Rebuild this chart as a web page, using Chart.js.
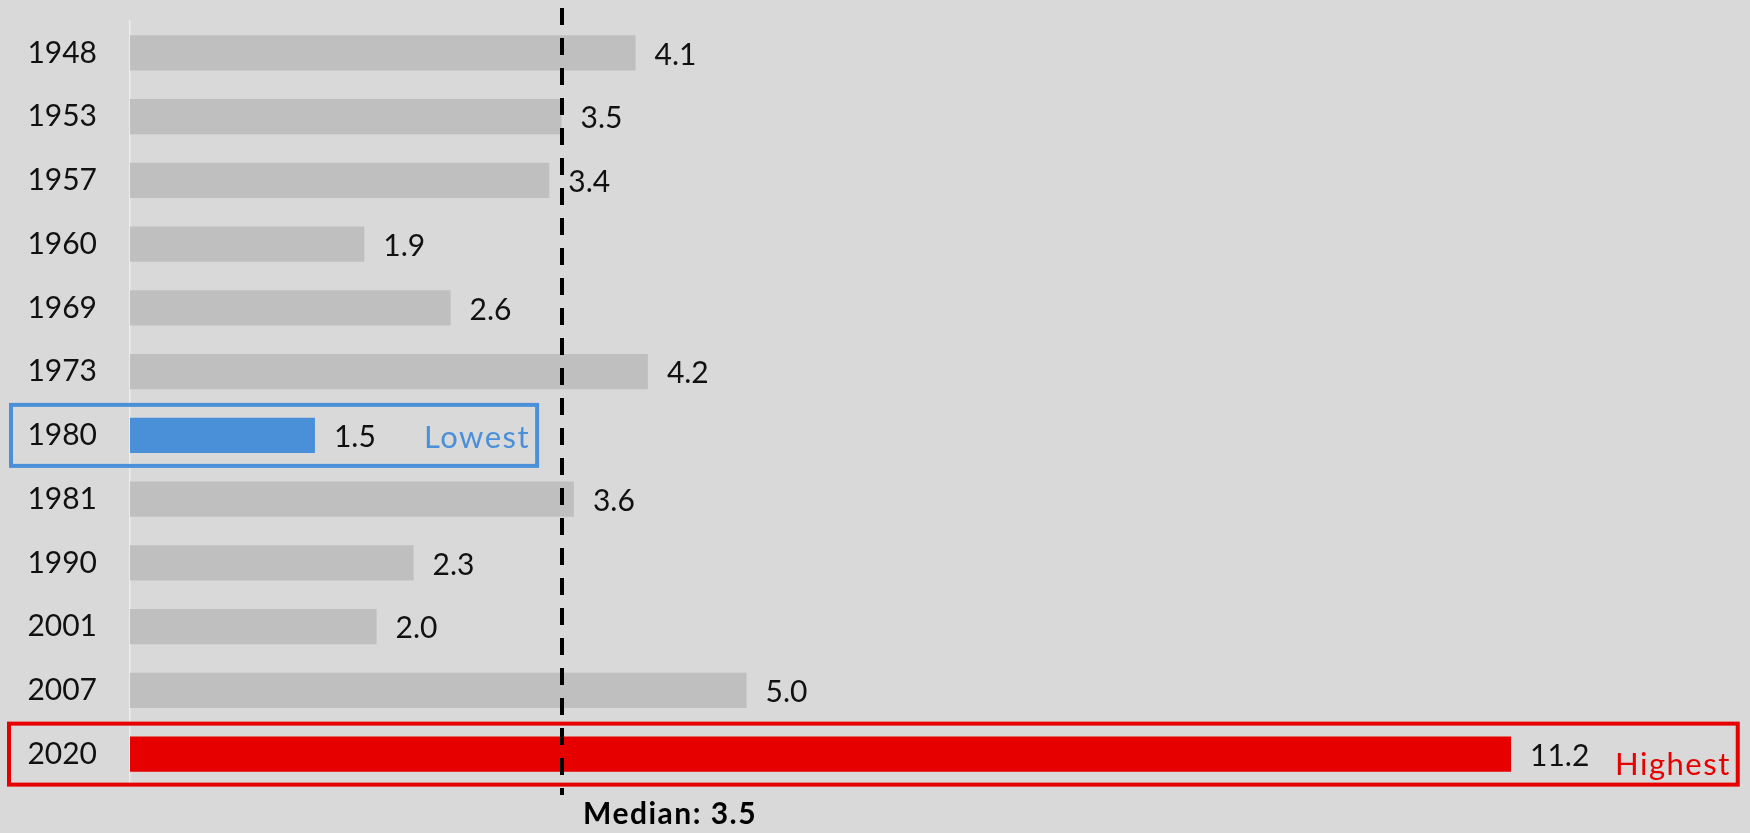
<!DOCTYPE html>
<html>
<head>
<meta charset="utf-8">
<script src="https://cdn.jsdelivr.net/npm/chart.js@4"></script>
<style>
  html, body { margin: 0; padding: 0; background: #d9d9d9; }
  #wrap { width: 1750px; height: 833px; position: relative; }
</style>
</head>
<body>
<div id="wrap"><canvas id="unemploymentChart"></canvas></div>
<script>
// Peak values per recession year
const years = ['1948', '1953', '1957', '1960', '1969', '1973', '1980', '1981', '1990', '2001', '2007', '2020'];
const peakValues = [4.1, 3.5, 3.4, 1.9, 2.6, 4.2, 1.5, 3.6, 2.3, 2.0, 5.0, 11.2];
const medianValue = 3.5;
const medianLabel = 'Median: 3.5';
const lowLabel = 'Lowest';
const highLabel = 'Highest';

const GREY = '#bfbfbf';
const BLUE = '#4a90d9';
const RED = '#e60000';
const FONT = 'Lato, "Noto Sans", sans-serif';

const lowIdx = peakValues.indexOf(Math.min(...peakValues));
const highIdx = peakValues.indexOf(Math.max(...peakValues));
const barColors = peakValues.map((v, i) => i === lowIdx ? BLUE : i === highIdx ? RED : GREY);

// value labels, median line and the two highlight boxes
const annotations = {
  id: 'annotations',
  afterDatasetsDraw(chart) {
    const ctx = chart.ctx;
    const x = chart.scales.x;
    const bars = chart.getDatasetMeta(0).data;

    ctx.save();
    ctx.font = '30px ' + FONT;
    ctx.fillStyle = '#111';
    ctx.textAlign = 'left';
    ctx.textBaseline = 'middle';
    bars.forEach((bar, i) => {
      ctx.fillText(peakValues[i].toFixed(1), bar.x + 19, bar.y + 2);
    });

    // median marker
    const mx = Math.round(x.getPixelForValue(medianValue));
    ctx.strokeStyle = '#000';
    ctx.lineWidth = 4;
    ctx.setLineDash([17, 13]);
    ctx.beginPath();
    ctx.moveTo(mx, 8);
    ctx.lineTo(mx, 795);
    ctx.stroke();
    ctx.setLineDash([]);

    ctx.font = 'bold 30px ' + FONT;
    ctx.letterSpacing = '1.5px';
    ctx.fillStyle = '#000';
    ctx.fillText(medianLabel, mx + 21, 814);

    // highlight boxes around lowest and highest
    const drawBox = (i, color, text, textDx, textDy) => {
      const bar = bars[i];
      ctx.font = '31px ' + FONT;
      ctx.letterSpacing = '1.5px';
      ctx.fillStyle = color;
      const tx = bar.x + textDx;
      ctx.fillText(text, tx, bar.y + textDy);
      const w = ctx.measureText(text).width;
      ctx.letterSpacing = '0px';
      ctx.strokeStyle = color;
      ctx.lineWidth = 4;
      const left = i === highIdx ? 9 : 11;
      ctx.strokeRect(left, bar.y - 30.5, tx + w + 7 - left, 61);
    };
    drawBox(lowIdx, BLUE, lowLabel, 109, 3);
    drawBox(highIdx, RED, highLabel, 104, 11);
    ctx.restore();
  }
};

new Chart(document.getElementById('unemploymentChart'), {
  type: 'bar',
  data: {
    labels: years,
    datasets: [{
      data: peakValues,
      backgroundColor: barColors,
      borderWidth: 0,
      categoryPercentage: 1,
      barPercentage: 0.55
    }]
  },
  options: {
    indexAxis: 'y',
    responsive: true,
    maintainAspectRatio: false,
    animation: false,
    layout: { padding: { top: 21, bottom: 47, left: 0, right: 17 } },
    plugins: {
      legend: { display: false },
      tooltip: { enabled: false }
    },
    scales: {
      x: {
        display: false,
        min: 0,
        max: 13
      },
      y: {
        grid: { display: false, drawTicks: false },
        border: { display: true, color: '#ececec', width: 1.5 },
        ticks: {
          color: '#111',
          padding: 33,
          font: { family: FONT, size: 30 }
        },
        afterFit(scale) {
          scale.width = 130;
          // labels sit inside the category bands, no extra room needed
          scale.paddingTop = 0;
          scale.paddingBottom = 0;
        }
      }
    }
  },
  plugins: [annotations]
});
</script>
</body>
</html>
